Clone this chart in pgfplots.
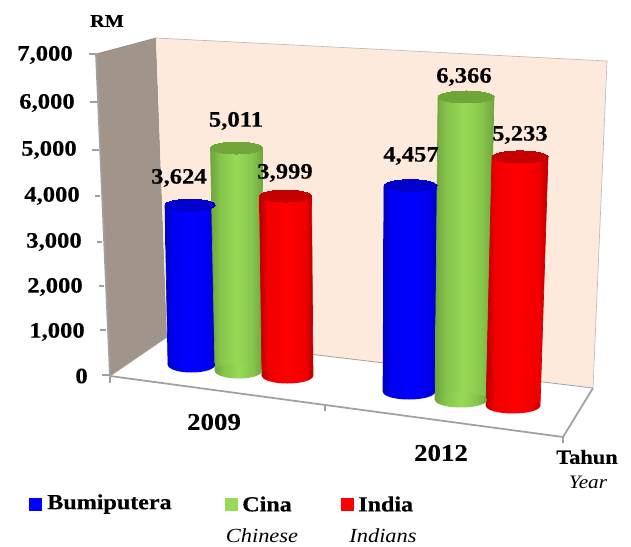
\documentclass[border=0pt]{standalone}
\usepackage{fontspec}
\usepackage{pgfplots}
\pgfplotsset{compat=1.18}
\setmainfont[FakeStretch=1.12,BoldFeatures={FakeBold=0.25}]{Liberation Serif}
\newcommand{\fpx}[1]{\fontsize{\dimexpr#1pt*3/4\relax}{\dimexpr#1pt*3/4\relax}\selectfont}
\definecolor{wallL}{RGB}{161,149,139}
\definecolor{wallB}{RGB}{253,234,220}
\definecolor{edge}{RGB}{160,160,160}
\definecolor{bA}{RGB}{0,0,185}\definecolor{bB}{RGB}{0,0,240}\definecolor{bC}{RGB}{0,0,255}\definecolor{bT}{RGB}{0,0,205}
\definecolor{gA}{RGB}{112,165,62}\definecolor{gB}{RGB}{134,198,76}\definecolor{gC}{RGB}{150,218,85}\definecolor{gT}{RGB}{112,165,58}
\definecolor{rA}{RGB}{180,0,0}\definecolor{rB}{RGB}{240,0,0}\definecolor{rC}{RGB}{255,0,0}\definecolor{rT}{RGB}{196,0,0}
\pgfdeclarehorizontalshading{cylb}{100bp}{color(0bp)=(bA);color(25bp)=(bA);color(32bp)=(bB);color(50bp)=(bC);color(68bp)=(bB);color(75bp)=(bA);color(100bp)=(bA)}
\pgfdeclarehorizontalshading{cylg}{100bp}{color(0bp)=(gA);color(25bp)=(gA);color(35bp)=(gB);color(50bp)=(gC);color(65bp)=(gB);color(75bp)=(gA);color(100bp)=(gA)}
\pgfdeclarehorizontalshading{cylr}{100bp}{color(0bp)=(rA);color(25bp)=(rA);color(32bp)=(rB);color(50bp)=(rC);color(68bp)=(rB);color(75bp)=(rA);color(100bp)=(rA)}
\pgfdeclareplotmark{cylb}{\pgfpathcircle{\pgfpointorigin}{\pgfplotmarksize}\pgfshadepath{cylb}{0}\pgfusepath{discard}}
\pgfdeclareplotmark{cylg}{\pgfpathcircle{\pgfpointorigin}{\pgfplotmarksize}\pgfshadepath{cylg}{0}\pgfusepath{discard}}
\pgfdeclareplotmark{cylr}{\pgfpathcircle{\pgfpointorigin}{\pgfplotmarksize}\pgfshadepath{cylr}{0}\pgfusepath{discard}}
% #1 colour key, #2 top colour, #3 x top, #4 x base, #5 half-width top, #6 half-width base,
% #7 y base (px), #8 value (RM), #9 px per 1000 RM
\newcommand{\cyl}[9]{%
  \pgfmathsetmacro\ytop{#7-#8/1000*#9}%
  \pgfmathsetmacro\xa{#3-#5}\pgfmathsetmacro\xb{#3+#5}%
  \pgfmathsetmacro\xc{#4+#6}\pgfmathsetmacro\xd{#4-#6}%
  \pgfmathsetmacro\mb{#6*0.75}\pgfmathsetmacro\sb{7.5/#6}%
  \pgfmathsetmacro\mt{#5*0.75}\pgfmathsetmacro\st{6/#5}%
  \edef\doit{%
    \noexpand\addplot[only marks,mark=#1,mark size=\mb pt,mark options={yscale=\sb}] coordinates {(#4,#7)};
    \noexpand\addplot[draw=none,shade,shading=#1] coordinates {(\xa,\ytop)(\xb,\ytop)(\xc,#7)(\xd,#7)} -- cycle;
    \noexpand\addplot[color=#2,line width=.5pt] coordinates {(\xa,\ytop)(\xd,#7)};
    \noexpand\addplot[color=#2,line width=.5pt] coordinates {(\xb,\ytop)(\xc,#7)};
    \noexpand\addplot[only marks,mark=*,mark size=\mt pt,mark options={yscale=\st,line width=0pt,draw=#2,fill=#2}] coordinates {(#3,\ytop)};
  }\doit}
\begin{document}
\begin{tikzpicture}
\useasboundingbox (0,0) rectangle (473.25pt,409.5pt);
\begin{axis}[
  at={(0,0)},anchor=south west,
  scale only axis,width=473.25pt,height=409.5pt,
  xmin=0,xmax=631,ymin=0,ymax=546,y dir=reverse,
  axis lines=none,clip=false,
  /pgf/number format/assume math mode=true,
  /pgf/number format/fixed,
  /pgf/number format/1000 sep={,},
  nodes near coords style={anchor=center,inner sep=0pt,font=\bfseries\fpx{22},text=black},
]
% walls
\addplot[fill=wallL,draw=none] coordinates {(96,54)(156,38)(167,337)(110,376)} -- cycle;
\addplot[fill=wallB,draw=none] coordinates {(156,38)(607,61)(593,388)(167,337)} -- cycle;
\addplot[edge!70,line width=.5pt] coordinates {(156,38)(607,61)(593,388)};
\addplot[edge!80!black,line width=.4pt] coordinates {(96,54)(156,38)};
\addplot[edge,line width=.6pt] coordinates {(110,376)(167,337)(593,388)};
\addplot[edge,line width=1.3pt] coordinates {(96,54)(110,376)(563,437)(593,388)};
% ticks
\addplot[edge,line width=.9pt] coordinates {(88.5,54)(96,54)};
\addplot[edge,line width=.9pt] coordinates {(90,102)(97,102)};
\addplot[edge,line width=.9pt] coordinates {(92,150)(98.5,150)};
\addplot[edge,line width=.9pt] coordinates {(95,196)(100,196)};
\addplot[edge,line width=.9pt] coordinates {(97,242)(102,242)};
\addplot[edge,line width=.9pt] coordinates {(99,286)(104,286)};
\addplot[edge,line width=.9pt] coordinates {(100,330)(106,330)};
\addplot[edge,line width=.9pt] coordinates {(102,375)(110,375)};
\addplot[edge,line width=.9pt] coordinates {(110,376)(110,383)};
\addplot[edge,line width=.9pt] coordinates {(325,405)(325,411)};
\addplot[edge,line width=.9pt] coordinates {(563,437)(563,443)};
% cylinders
\cyl{cylb}{bT}{190}{191.5}{25}{23.5}{365}{3624}{44.1}
\cyl{cylg}{gT}{236.5}{238.5}{26}{23.5}{371}{5011}{44.5}
\cyl{cylr}{rT}{285.5}{287.5}{26}{25.5}{376}{3999}{45}
\cyl{cylb}{bT}{410.5}{409}{26.5}{26}{392}{4457}{46.3}
\cyl{cylg}{gT}{466}{461}{28}{26}{400}{6366}{47.6}
\cyl{cylr}{rT}{520}{513}{28}{27}{406}{5233}{47.6}
% y-axis numbers: x, y (px), value
\addplot[draw=none,mark=none,nodes near coords,point meta=explicit,
  nodes near coords style={anchor=east}] coordinates {
  (73,55)[7000](75,103)[6000](77,150)[5000](80,196)[4000]
  (82,242)[3000](83,287)[2000](85,332)[1000](88,376)[0]};
% value labels
\addplot[draw=none,mark=none,nodes near coords,point meta=explicit] coordinates {
  (179,178)[3624](236,121)[5011](285,173)[3999]
  (411,156)[4457](464,77)[6366](520,135)[5233]};
% legend keys
\addplot[only marks,mark=square*,mark size=4.5pt,mark options={line width=0pt,draw=bC,fill=bC}] coordinates {(35,504)};
\addplot[only marks,mark=square*,mark size=4.5pt,mark options={line width=0pt,draw=gC,fill=gC}] coordinates {(231,504)};
\addplot[only marks,mark=square*,mark size=4.5pt,mark options={line width=0pt,draw=rC,fill=rC}] coordinates {(347,504)};
% texts
\node[inner sep=0pt,font=\bfseries\fpx{18}] at (axis cs:107,21) {RM};
\node[inner sep=0pt,font=\bfseries\fpx{24}] at (axis cs:214,422) {2009};
\node[inner sep=0pt,font=\bfseries\fpx{24}] at (axis cs:441,453) {2012};
\node[inner sep=0pt,font=\bfseries\fpx{20}] at (axis cs:587,457) {Tahun};
\node[inner sep=0pt,font=\itshape\fpx{19}] at (axis cs:588,482) {Year};
\node[inner sep=0pt,anchor=west,font=\bfseries\fpx{21.5}] at (axis cs:47,504) {Bumiputera};
\node[inner sep=0pt,anchor=west,font=\bfseries\fpx{21.5}] at (axis cs:242,504) {Cina};
\node[inner sep=0pt,anchor=west,font=\bfseries\fpx{21.5}] at (axis cs:358,504) {India};
\node[inner sep=0pt,font=\itshape\fpx{20}] at (axis cs:262,536) {Chinese};
\node[inner sep=0pt,font=\itshape\fpx{20}] at (axis cs:383,536) {Indians};
\end{axis}
\end{tikzpicture}
\end{document}
